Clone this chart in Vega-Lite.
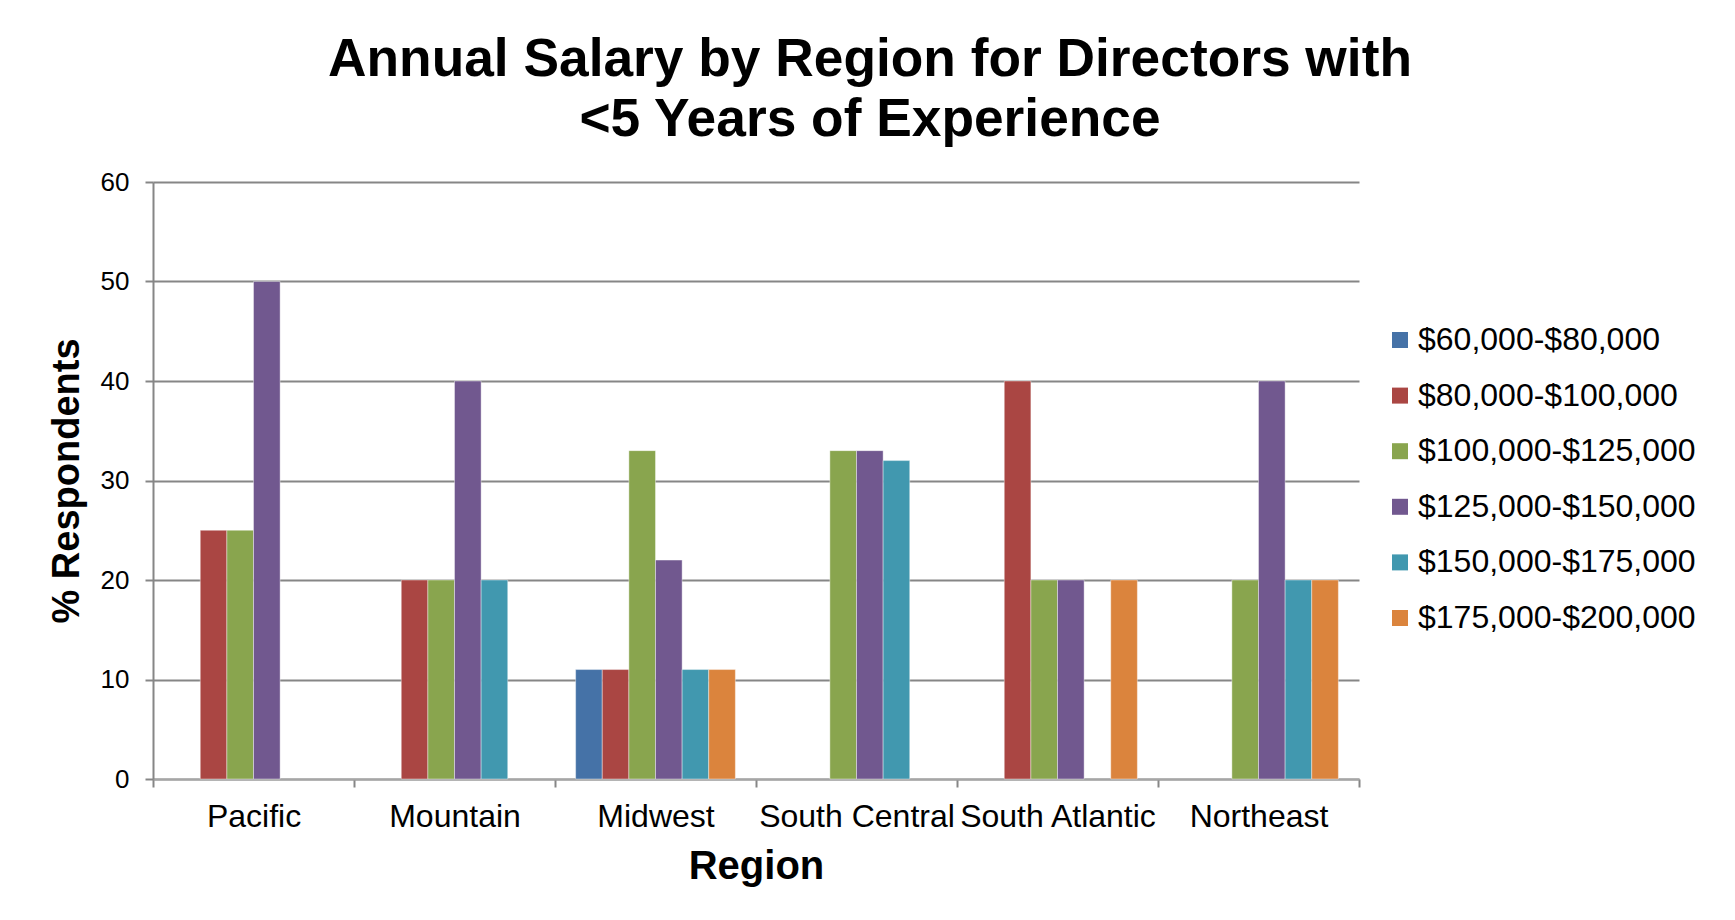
{
  "$schema": "https://vega.github.io/schema/vega-lite/v6.json",
  "width": 1206,
  "height": 597,
  "autosize": {"type": "none"},
  "padding": {"left": 153, "top": 182, "right": 376, "bottom": 141},
  "background": "white",
  "title": {
    "text": ["Annual Salary by Region for Directors with", "<5 Years of Experience"],
    "font": "Liberation Sans",
    "fontSize": 53.3,
    "fontWeight": "bold",
    "lineHeight": 60,
    "color": "black",
    "anchor": "middle",
    "frame": "group",
    "dx": 114,
    "offset": 22
  },
  "data": {
    "values": [
      {"region": "Pacific", "salary": "$80,000-$100,000", "pct": 25},
      {"region": "Pacific", "salary": "$100,000-$125,000", "pct": 25},
      {"region": "Pacific", "salary": "$125,000-$150,000", "pct": 50},
      {"region": "Mountain", "salary": "$80,000-$100,000", "pct": 20},
      {"region": "Mountain", "salary": "$100,000-$125,000", "pct": 20},
      {"region": "Mountain", "salary": "$125,000-$150,000", "pct": 40},
      {"region": "Mountain", "salary": "$150,000-$175,000", "pct": 20},
      {"region": "Midwest", "salary": "$60,000-$80,000", "pct": 11},
      {"region": "Midwest", "salary": "$80,000-$100,000", "pct": 11},
      {"region": "Midwest", "salary": "$100,000-$125,000", "pct": 33},
      {"region": "Midwest", "salary": "$125,000-$150,000", "pct": 22},
      {"region": "Midwest", "salary": "$150,000-$175,000", "pct": 11},
      {"region": "Midwest", "salary": "$175,000-$200,000", "pct": 11},
      {"region": "South Central", "salary": "$100,000-$125,000", "pct": 33},
      {"region": "South Central", "salary": "$125,000-$150,000", "pct": 33},
      {"region": "South Central", "salary": "$150,000-$175,000", "pct": 32},
      {"region": "South Atlantic", "salary": "$80,000-$100,000", "pct": 40},
      {"region": "South Atlantic", "salary": "$100,000-$125,000", "pct": 20},
      {"region": "South Atlantic", "salary": "$125,000-$150,000", "pct": 20},
      {"region": "South Atlantic", "salary": "$175,000-$200,000", "pct": 20},
      {"region": "Northeast", "salary": "$100,000-$125,000", "pct": 20},
      {"region": "Northeast", "salary": "$125,000-$150,000", "pct": 40},
      {"region": "Northeast", "salary": "$150,000-$175,000", "pct": 20},
      {"region": "Northeast", "salary": "$175,000-$200,000", "pct": 20}
    ]
  },
  "mark": {"type": "bar", "stroke": "#ffffff", "strokeOpacity": 0.4, "strokeWidth": 1},
  "encoding": {
    "x": {
      "field": "region",
      "type": "nominal",
      "sort": ["Pacific", "Mountain", "Midwest", "South Central", "South Atlantic", "Northeast"],
      "scale": {"domain": ["Pacific", "Mountain", "Midwest", "South Central", "South Atlantic", "Northeast"], "paddingInner": 0, "paddingOuter": 0},
      "axis": {
        "title": "Region",
        "titleFont": "Liberation Sans",
        "titleFontSize": 40,
        "titleFontWeight": "bold",
        "titleColor": "black",
        "titlePadding": 14,
        "labelFont": "Liberation Sans",
        "labelFontSize": 32,
        "labelColor": "black",
        "labelAngle": 0,
        "labelPadding": 14,
        "labelOverlap": false,
        "labelLimit": 400,
        "tickBand": "extent",
        "tickSize": 8,
        "tickColor": "#868686",
        "tickWidth": 2,
        "domainColor": "#a6a6a6",
        "domainWidth": 2,
        "grid": false
      }
    },
    "xOffset": {
      "field": "salary",
      "type": "nominal",
      "scale": {
        "domain": ["$60,000-$80,000", "$80,000-$100,000", "$100,000-$125,000", "$125,000-$150,000", "$150,000-$175,000", "$175,000-$200,000"],
        "paddingInner": 0,
        "paddingOuter": 0.775
      }
    },
    "y": {
      "field": "pct",
      "type": "quantitative",
      "scale": {"domain": [0, 60], "nice": false},
      "axis": {
        "title": "% Respondents",
        "titleFont": "Liberation Sans",
        "titleFontSize": 38,
        "titleFontWeight": "bold",
        "titleColor": "black",
        "titlePadding": 14,
        "values": [0, 10, 20, 30, 40, 50, 60],
        "labelFont": "Liberation Sans",
        "labelFontSize": 26,
        "labelColor": "black",
        "labelPadding": 16,
        "tickSize": 8,
        "tickColor": "#868686",
        "tickWidth": 2,
        "domainColor": "#868686",
        "domainWidth": 2,
        "grid": true,
        "gridColor": "#868686",
        "gridWidth": 2
      }
    },
    "color": {
      "field": "salary",
      "type": "nominal",
      "scale": {
        "domain": ["$60,000-$80,000", "$80,000-$100,000", "$100,000-$125,000", "$125,000-$150,000", "$150,000-$175,000", "$175,000-$200,000"],
        "range": ["#4572A7", "#AA4643", "#89A54E", "#71588F", "#4198AF", "#DB843D"]
      },
      "legend": {
        "title": null,
        "orient": "none",
        "legendX": 1231,
        "legendY": 142,
        "padding": 0,
        "symbolType": "square",
        "symbolSize": 256,
        "symbolStrokeWidth": 0,
        "symbolOpacity": 1,
        "labelFont": "Liberation Sans",
        "labelFontSize": 32,
        "labelColor": "black",
        "labelOffset": 2,
        "labelLimit": 400,
        "rowPadding": 23.6
      }
    }
  },
  "config": {
    "view": {"stroke": null}
  }
}
